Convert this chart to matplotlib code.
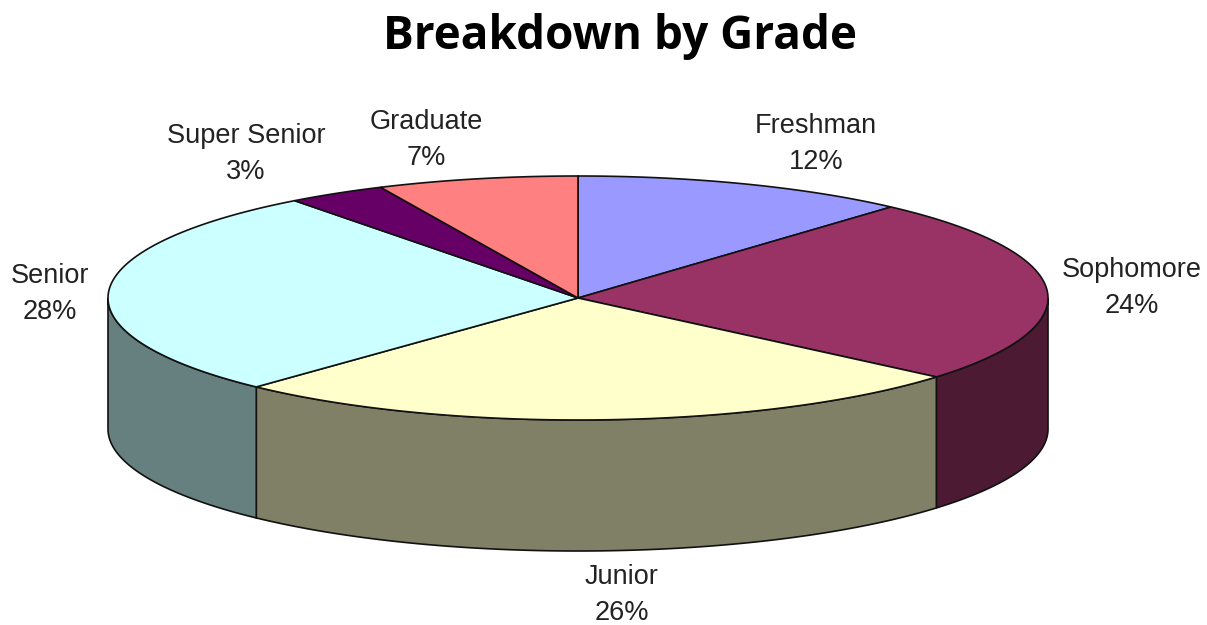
import numpy as np
import matplotlib
matplotlib.use('Agg')
import matplotlib.pyplot as plt
from matplotlib.patches import Polygon

categories = ['Freshman', 'Sophomore', 'Junior', 'Senior', 'Super Senior', 'Graduate']
percent_labels = [12, 24, 26, 28, 3, 7]
# slice sizes as measured on the picture, the printed labels are rounded
shares = [11.6, 24.6, 25.8, 27.7, 3.4, 6.9]
top_colors = ['#9999FF', '#993366', '#FFFFCC', '#CCFFFF', '#660066', '#FF8080']
side_colors = ['#4D4D80', '#4D1A33', '#808066', '#668080', '#330033', '#804040']
label_pos = [(816, 144), (1132, 288), (622, 595), (50, 294), (246, 154), (426, 140)]

cx, cy = 578, 298
rx, ry = 470, 122
depth = 131

def rim(a0, a1, n=120):
    # angles in degrees, clockwise from the top
    t = np.radians(np.linspace(a0, a1, n))
    return cx + rx * np.sin(t), cy - ry * np.cos(t)

fig = plt.figure(figsize=(12.07, 6.25), dpi=100)
ax = fig.add_axes([0, 0, 1, 1])
ax.set_xlim(0, 1207)
ax.set_ylim(625, 0)
ax.axis('off')

edges = np.cumsum([0] + shares) * 3.6

# side walls first, only the front half of the rim shows
for i in range(len(shares)):
    a0 = max(edges[i], 90)
    a1 = min(edges[i + 1], 270)
    if a1 <= a0:
        continue
    x, y = rim(a0, a1)
    pts = np.r_[np.c_[x, y], np.c_[x[::-1], y[::-1] + depth]]
    ax.add_patch(Polygon(pts, closed=True, fc=side_colors[i], ec='#111111', lw=1.2))

for i in range(len(shares)):
    x, y = rim(edges[i], edges[i + 1])
    pts = np.r_[[[cx, cy]], np.c_[x, y]]
    ax.add_patch(Polygon(pts, closed=True, fc=top_colors[i], ec='#111111', lw=1.2))

for name, val, (lx, ly) in zip(categories, percent_labels, label_pos):
    ax.text(lx, ly, f'{name}\n{val}%', ha='center', va='center', fontsize=19.5,
            family='Liberation Sans', color='#222222', linespacing=1.5)

ax.text(620, 36, 'Breakdown by Grade', ha='center', va='center', fontsize=33,
        family='Open Sans', fontweight='bold', color='black')

fig.savefig('out.png', dpi=100)
